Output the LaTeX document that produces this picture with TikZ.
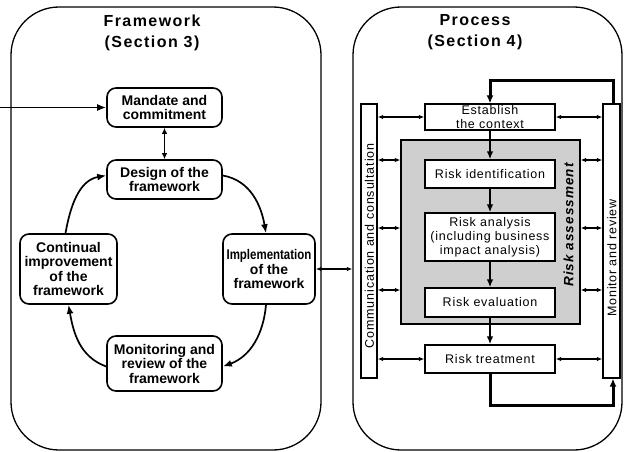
\documentclass[tikz,border=0pt]{standalone}
\usepackage{fontspec}
\setmainfont{Liberation Sans}
\usetikzlibrary{arrows.meta}
\begin{document}
\begin{tikzpicture}[x=1pt,y=-1pt,
  outerbox/.style={draw,line width=1.3pt,rounded corners=48pt,inner sep=0pt},
  fwbox/.style={draw,line width=1.6pt,rounded corners=9pt,align=center,inner sep=1pt,
    font=\fontsize{14}{14.5}\selectfont\bfseries},
  prbox/.style={draw,line width=1.3pt,fill=white,align=center,inner sep=1pt,minimum width=130pt,
    font=\fontsize{12.5}{14}\selectfont\addfontfeatures{LetterSpace=6}},
  bar/.style={draw,line width=1.3pt,fill=white,inner sep=0pt},
  title/.style={align=center,font=\fontsize{16}{21}\selectfont\bfseries\addfontfeatures{LetterSpace=9}},
  cyc/.style={line width=1.7pt,-{Latex[length=9pt,width=7pt]}},
  dbl/.style={line width=1.4pt,{Latex[length=5.5pt,width=4.5pt]}-{Latex[length=5.5pt,width=4.5pt]}},
  flow/.style={line width=1.8pt,-{Latex[length=8pt,width=6.5pt]}},
  fb/.style={line width=3pt,-{Latex[length=8pt,width=7pt]}}]
\useasboundingbox (0,0) rectangle (624,452);
% outer boxes
\node[outerbox,minimum width=310pt,minimum height=443pt] (fwk) at (166,228.5) {};
\node[outerbox,minimum width=269pt,minimum height=443pt] (proc) at (487.5,228.5) {};
\node[title] (t1) at (152,32.5) {Framework\\(Section 3)};
\node[title] (t2) at (475,32.5) {Process\\(Section 4)};
% framework nodes
\node[fwbox,minimum width=115pt,minimum height=39pt] (mand) at (164.5,107.5) {Mandate and\\commitment};
\node[fwbox,minimum width=115pt,minimum height=39pt] (design) at (164.5,179.5) {Design of the\\framework};
\node[fwbox,minimum width=92pt,minimum height=70pt] (impl) at (269,269) {\scalebox{0.82}[1]{Implementation}\\of the\\framework};
\node[fwbox,minimum width=97pt,minimum height=70pt] (cont) at (68.5,269) {Continual\\improvement\\of the\\framework};
\node[fwbox,minimum width=115pt,minimum height=55pt] (mon) at (164.5,363.5) {Monitoring and\\review of the\\framework};
\coordinate (inp) at (0,107.5);
\draw[cyc] (inp) -- (mand.west);
\draw[line width=1.6pt,{Latex[length=6pt,width=5.5pt]}-{Latex[length=6pt,width=5.5pt]}] (mand.south) -- (design.north);
\draw[cyc] ([yshift=4pt]design.east) to[out=-10,in=100] ([xshift=-3pt]impl.north);
\draw[cyc] ([xshift=-3pt]impl.south) to[out=-95,in=20] ([yshift=-3pt]mon.east);
\draw[cyc] ([yshift=-3pt]mon.west) to[out=160,in=-80] (cont.south);
\draw[cyc] ([xshift=-3pt]cont.north) to[out=80,in=-170] ([yshift=4pt]design.west);
\draw[dbl] (impl.east) -- (impl.east -| proc.west);
% process
\node[draw,line width=1.3pt,fill=black!19,minimum width=179pt,minimum height=184pt,inner sep=0pt] (gray) at (490.5,232) {};
\node[bar,minimum width=16pt,minimum height=274pt] (comm) at (369,241) {};
\node[rotate=90,font=\fontsize{12.5}{14}\selectfont\addfontfeatures{LetterSpace=7}] (commt) at (369.5,246) {Communication and consultation};
\node[bar,minimum width=17pt,minimum height=274pt] (monbar) at (611.5,241) {};
\node[rotate=90,font=\fontsize{12.5}{14}\selectfont\addfontfeatures{LetterSpace=6}] (monbart) at (612,258) {Monitor and review};
\node[prbox,minimum height=26pt] (est) at (490,117) {Establish\\the context};
\node[prbox,minimum height=28pt] (rid) at (490,174) {Risk identification};
\node[prbox,minimum height=48pt] (ran) at (490,237) {Risk analysis\\(including business\\impact analysis)};
\node[prbox,minimum height=29pt] (rev) at (490,302.5) {Risk evaluation};
\node[prbox,minimum height=28pt] (rtr) at (490,359) {Risk treatment};
\node[rotate=90,font=\fontsize{13.5}{14}\selectfont\bfseries\itshape\addfontfeatures{LetterSpace=8}] (ra) at (568.5,225) {Risk assessment};
% flow
\draw[flow] (est) -- (rid);
\draw[flow] (rid) -- (ran);
\draw[flow] (ran) -- (rev);
\draw[flow] (rev) -- (rtr);
% double arrows
\draw[dbl] (comm.east |- est.west) -- (est.west);
\draw[dbl] (est.east) -- (monbar.west |- est.east);
\draw[dbl] (comm.east |- 0,160) -- (gray.west |- 0,160);
\draw[dbl] (gray.east |- 0,160) -- (monbar.west |- 0,160);
\draw[dbl] (comm.east |- 0,228) -- (gray.west |- 0,228);
\draw[dbl] (gray.east |- 0,228) -- (monbar.west |- 0,228);
\draw[dbl] (comm.east |- 0,290) -- (gray.west |- 0,290);
\draw[dbl] (gray.east |- 0,290) -- (monbar.west |- 0,290);
\draw[dbl] (comm.east |- rtr.west) -- (rtr.west);
\draw[dbl] (rtr.east) -- (monbar.west |- rtr.east);
% feedback
\draw[fb] ([xshift=1.5pt]monbar.north) -- ++(0,-23) -| (est.north);
\draw[fb] (rtr.south) -- ++(0,32) -| ([xshift=1.5pt]monbar.south);
\end{tikzpicture}
\end{document}
